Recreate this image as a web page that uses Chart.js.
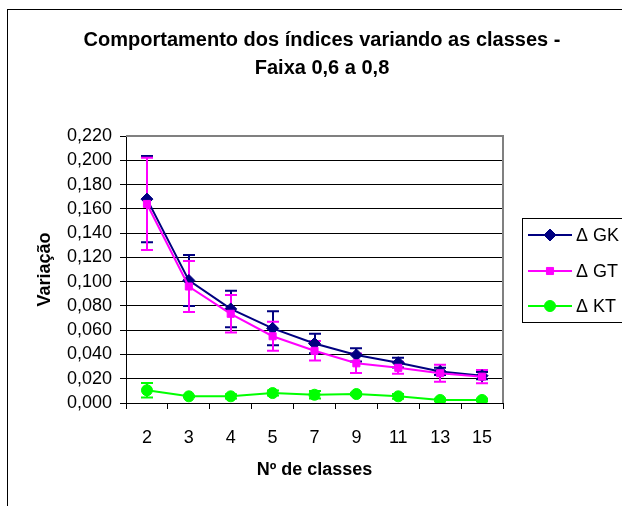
<!DOCTYPE html>
<html><head><meta charset="utf-8">
<script src="https://cdn.jsdelivr.net/npm/chart.js@4/dist/chart.umd.min.js"></script>
<style>html,body{margin:0;padding:0;background:#fff;overflow:hidden}canvas{display:block}</style>
</head><body>
<canvas id="c" width="622" height="506"></canvas>
<script>
const categories = ['2','3','4','5','7','9','11','13','15'];
const seriesLabels = ['\u0394 GK','\u0394 GT','\u0394 KT'];
const gkValues = [0.168, 0.101, 0.0775, 0.0615, 0.049, 0.0396, 0.0332, 0.026, 0.0225];
const gkErrors = [0.0355, 0.021, 0.015, 0.014, 0.008, 0.0055, 0.004, 0.003, 0.003];
const gtValues = [0.164, 0.096, 0.0735, 0.055, 0.043, 0.0327, 0.029, 0.0245, 0.0217];
const gtErrors = [0.038, 0.021, 0.0155, 0.012, 0.008, 0.008, 0.005, 0.007, 0.0055];
const ktValues = [0.0105, 0.0055, 0.0055, 0.0082, 0.0068, 0.0074, 0.0055, 0.0025, 0.0025];
const ktErrors = [0.006, 0.0005, 0.0017, 0.002, 0.003, 0.001, 0.002, 0.001, 0.001];
const titleLines = ['Comportamento dos \u00edndices variando as classes -', 'Faixa 0,6 a 0,8'];
const xTitle = 'N\u00ba de classes';
const yTitle = 'Varia\u00e7\u00e3o';
const yMin = 0, yMax = 0.22, yStep = 0.02;

const FONT = '"Liberation Sans", Arial, sans-serif';
const errorSets = [gkErrors, gtErrors, ktErrors];

const framePlugin = {
  id: 'frame',
  beforeDraw(chart) {
    const ctx = chart.ctx;
    ctx.save();
    ctx.fillStyle = '#fff';
    ctx.fillRect(0, 0, chart.width, chart.height);
    ctx.strokeStyle = '#000';
    ctx.lineWidth = 1;
    ctx.strokeRect(7.5, 9.5, 900, 900);
    ctx.fillStyle = '#000';
    ctx.font = 'bold 20px ' + FONT;
    ctx.textAlign = 'center';
    ctx.textBaseline = 'middle';
    ctx.fillText(titleLines[0], 322, 40);
    ctx.fillText(titleLines[1], 322, 68);
    ctx.restore();
  },
  beforeDatasetsDraw(chart) {
    const ctx = chart.ctx;
    const a = chart.chartArea;
    ctx.save();
    ctx.strokeStyle = '#808080';
    ctx.lineWidth = 2;
    ctx.beginPath();
    ctx.moveTo(a.left, a.top);
    ctx.lineTo(a.right, a.top);
    ctx.lineTo(a.right, a.bottom);
    ctx.stroke();
    // error bars
    const ys = chart.scales.y;
    chart.data.datasets.forEach((ds, i) => {
      const meta = chart.getDatasetMeta(i);
      const errs = errorSets[i];
      ctx.strokeStyle = ds.borderColor;
      ctx.lineWidth = 2;
      meta.data.forEach((pt, j) => {
        const v = ds.data[j], e = errs[j];
        const yt = ys.getPixelForValue(v + e);
        const yb = ys.getPixelForValue(Math.max(0, v - e));
        const x = Math.round(pt.x);
        ctx.beginPath();
        ctx.moveTo(x, yt); ctx.lineTo(x, yb);
        ctx.moveTo(x - 6, yt); ctx.lineTo(x + 6, yt);
        ctx.moveTo(x - 6, yb); ctx.lineTo(x + 6, yb);
        ctx.stroke();
      });
    });
    ctx.restore();
  },
  afterDraw(chart) {
    const ctx = chart.ctx;
    ctx.save();
    ctx.strokeStyle = '#000';
    ctx.lineWidth = 1;
    ctx.strokeRect(522.5, 218.5, 200, 104);
    const rows = [235, 271, 306];
    chart.data.datasets.forEach((ds, i) => {
      const y = rows[i];
      ctx.strokeStyle = ds.borderColor;
      ctx.lineWidth = 2;
      ctx.beginPath();
      ctx.moveTo(528, y); ctx.lineTo(572, y);
      ctx.stroke();
      ctx.fillStyle = ds.pointBackgroundColor;
      ctx.strokeStyle = ds.pointBorderColor;
      ctx.lineWidth = 1;
      Chart.helpers.drawPoint(ctx, {pointStyle: ds.pointStyle, radius: ds.pointRadius, borderWidth: 1, rotation: 0}, 550, y);
      ctx.fillStyle = '#000';
      ctx.font = '18px ' + FONT;
      ctx.textAlign = 'left';
      ctx.textBaseline = 'middle';
      ctx.fillText(ds.label, 576, y + 1);
    });
    ctx.restore();
  }
};

const mkDs = (label, data, color, style, radius, order) => ({
  label, data, order,
  borderColor: color, backgroundColor: color,
  pointBackgroundColor: color, pointBorderColor: color,
  pointStyle: style, pointRadius: radius, pointBorderWidth: 1,
  borderWidth: 2, tension: 0, fill: false
});

new Chart(document.getElementById('c'), {
  type: 'line',
  data: {
    labels: categories,
    datasets: [
      mkDs(seriesLabels[0], gkValues, '#000080', 'rectRot', 6, 3),
      mkDs(seriesLabels[1], gtValues, '#FF00FF', 'rect', 5, 2),
      mkDs(seriesLabels[2], ktValues, '#00FF00', 'circle', 5.5, 1)
    ]
  },
  options: {
    responsive: false,
    devicePixelRatio: 1,
    animation: false,
    layout: {padding: {top: 136, right: 119, left: 0, bottom: 0}},
    plugins: {legend: {display: false}, title: {display: false}, tooltip: {enabled: false}},
    scales: {
      x: {
        offset: true,
        grid: {offset: true, drawOnChartArea: false, drawTicks: true, tickLength: 6, color: '#000', lineWidth: 1},
        border: {display: true, color: '#000', width: 1},
        ticks: {color: '#000', font: {family: FONT, size: 18}, padding: 18, maxRotation: 0, autoSkip: false},
        title: {display: true, text: xTitle, color: '#000', font: {family: FONT, size: 18, weight: 'bold'}, padding: {top: 0, bottom: 25}},
        afterFit(s) { s.height = 103; }
      },
      y: {
        min: yMin, max: yMax,
        grid: {color: '#000', lineWidth: 1, drawTicks: true, tickLength: 6},
        border: {display: true, color: '#000', width: 1},
        ticks: {stepSize: yStep, autoSkip: false, color: '#000', font: {family: FONT, size: 18}, padding: 8,
          callback: v => v.toFixed(3).replace('.', ',')},
        title: {display: true, text: yTitle, color: '#000', font: {family: FONT, size: 18, weight: 'bold'}, padding: {top: 34, bottom: 0}},
        afterFit(s) { s.width = 126; }
      }
    }
  },
  plugins: [framePlugin]
});
</script>
</body></html>
